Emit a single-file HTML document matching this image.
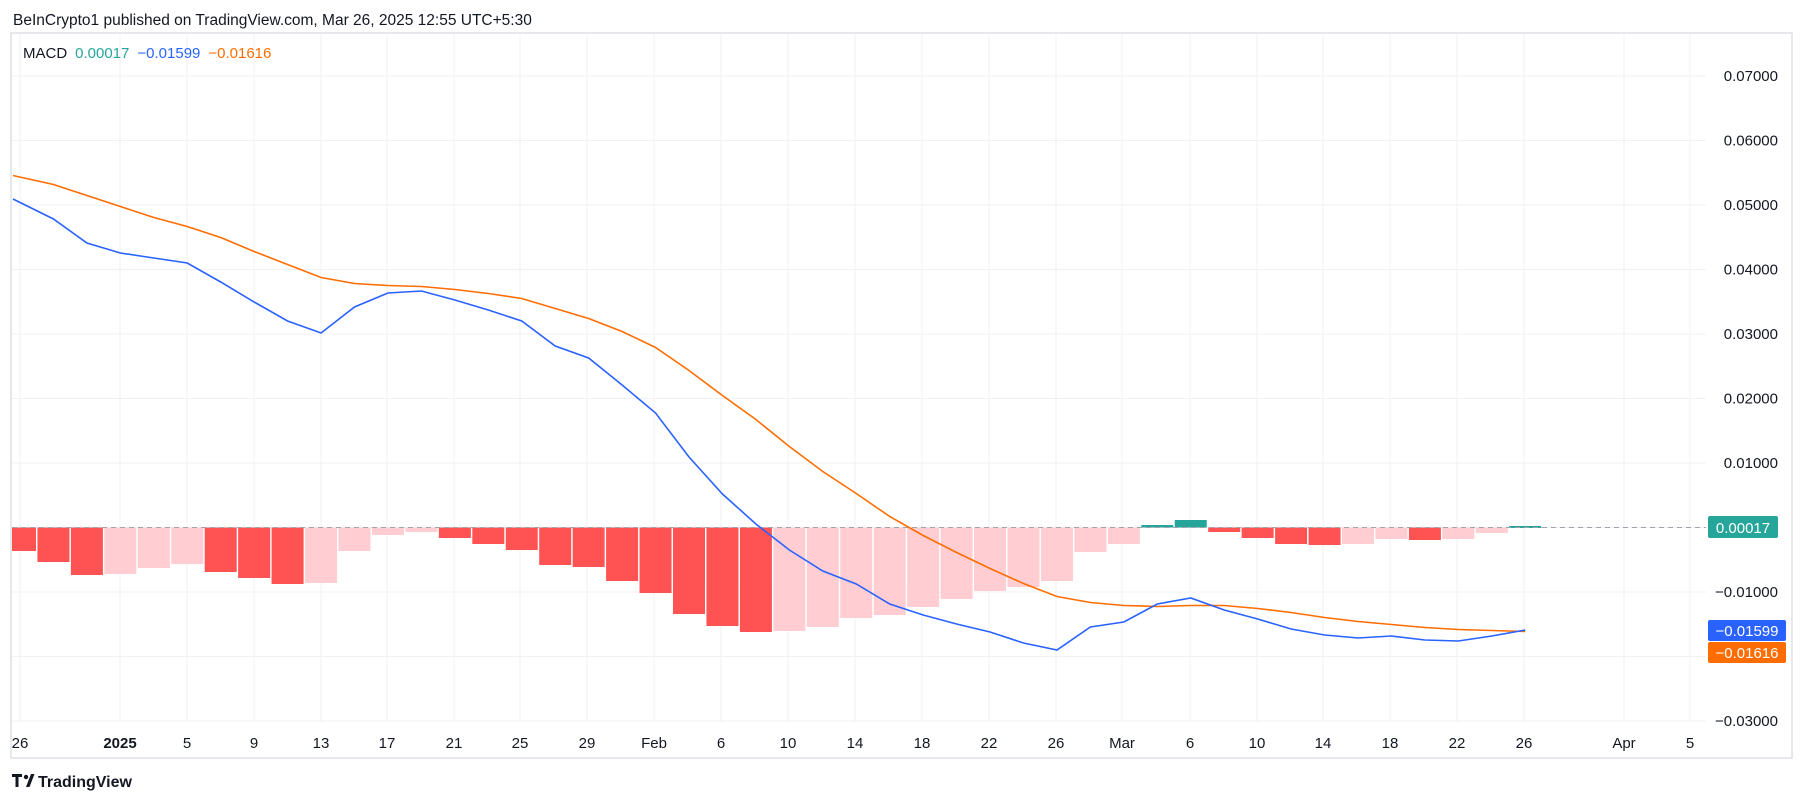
<!DOCTYPE html>
<html><head><meta charset="utf-8"><style>
html,body{margin:0;padding:0;background:#fff;}
body{width:1805px;height:803px;overflow:hidden;position:relative;font-family:"Liberation Sans",sans-serif;}
</style></head><body>
<svg id="s" width="1805" height="803" xmlns="http://www.w3.org/2000/svg" style="position:absolute;left:0;top:0">
<text x="13" y="25" font-size="15.5" fill="#131722" font-family="Liberation Sans, sans-serif">BeInCrypto1 published on TradingView.com, Mar 26, 2025 12:55 UTC+5:30</text>
<rect x="11" y="33" width="1781" height="725" fill="none" stroke="#e6e8ee" stroke-width="2"/>
<g id="grid"></g>
<g id="bars"></g>
<line x1="12" y1="527.5" x2="1706" y2="527.5" stroke="#a0a3ab" stroke-width="1" stroke-dasharray="5,4"/>
<polyline id="orange" fill="none" stroke="#FF6D00" stroke-width="1.6"/>
<polyline id="blue" fill="none" stroke="#2962FF" stroke-width="1.6"/>
<g id="ylab" font-size="15" fill="#131722" text-anchor="end" font-family="Liberation Sans, sans-serif"></g>
<g id="xlab" font-size="15" fill="#131722" text-anchor="middle" font-family="Liberation Sans, sans-serif"></g>
<text x="23" y="58" font-size="15" font-family="Liberation Sans, sans-serif"><tspan fill="#131722">MACD</tspan><tspan fill="#26A69A" dx="8">0.00017</tspan><tspan fill="#2962FF" dx="8">−0.01599</tspan><tspan fill="#FF6D00" dx="8">−0.01616</tspan></text>
<rect x="1708" y="516" width="70" height="22" rx="2" fill="#26A69A"/>
<text x="1743" y="533" font-size="15" fill="#fff" text-anchor="middle">0.00017</text>
<rect x="1708" y="620" width="78" height="21" rx="2" fill="#2962FF"/>
<text x="1747" y="636" font-size="15" fill="#fff" text-anchor="middle">−0.01599</text>
<rect x="1708" y="642" width="78" height="21" rx="2" fill="#FF6D00"/>
<text x="1747" y="658" font-size="15" fill="#fff" text-anchor="middle">−0.01616</text>
<g transform="translate(12,774)">
<path d="M0 0h10v3h-3.5v10h-3v-10h-3.5z" fill="#131722"/>
<circle cx="14" cy="3" r="2.2" fill="#131722"/>
<path d="M14 13l5-13h3.5l-5 13z" fill="#131722"/>
</g>
<text x="38" y="787" font-size="16" font-weight="bold" fill="#131722">TradingView</text>
</svg>
<script>
var NS="http://www.w3.org/2000/svg";
function el(p,t,a,txt){var e=document.createElementNS(NS,t);for(var k in a)e.setAttribute(k,a[k]);if(txt!=null)e.textContent=txt;document.getElementById(p).appendChild(e);return e;}
var zero=527.5, ppu=6450;
for(var v=-0.03;v<=0.0701;v+=0.01){var y=zero-v*ppu;if(y<34||y>722)continue;el("grid","line",{x1:12,x2:1706,y1:y,y2:y,stroke:"#f0f1f4","stroke-width":1});}
var gx=[20,120,187,254,321,387,454,520,587,654,721,788,855,922,989,1056,1122,1190,1257,1323,1390,1457,1524,1624,1690];
var gl=["26","2025","5","9","13","17","21","25","29","Feb","6","10","14","18","22","26","Mar","6","10","14","18","22","26","Apr","5"];
for(var i=0;i<gx.length;i++){el("grid","line",{x1:gx[i],x2:gx[i],y1:34,y2:722,stroke:"#f0f1f4","stroke-width":1});
var t=el("xlab","text",{x:gx[i],y:748},gl[i]);if(gl[i]=="2025")t.setAttribute("font-weight","bold");}
var yl=[[0.07,"0.07000"],[0.06,"0.06000"],[0.05,"0.05000"],[0.04,"0.04000"],[0.03,"0.03000"],[0.02,"0.02000"],[0.01,"0.01000"],[-0.01,"−0.01000"],[-0.03,"−0.03000"]];
yl.forEach(function(a){el("ylab","text",{x:1778,y:zero-a[0]*ppu+5},a[1]);});
var blue=[199,219,243,253,258,263,282,302,321,333,307,293,291,300,310,321,346,358,385,413,457,494,524,550,571,584,604,615,624,632,643,650,627,622,604,598,610,619,629,635,638,636,640,641,636,630];
var bot=[551,562,575,574,568,564,572,578,584,583,551,535,532,538,544,550,565,567,581,593,614,626,632,631,627,618,615,607,599,591,587,581,552,544,525,520,532,538,544,545,544,539,540,539,533,526];
var typ="DDDLLLDDDLLLLDDDDDDDDDDLLLLLLLLLLLGGDDDDLLDLLG";
var bp=[],op=[];
for(var k=0;k<46;k++){var cx=20+33.45*k;var x0=cx-16,x1=cx+16;if(x0<12)x0=12;
var b=bot[k];var c=typ[k]=="D"?"#FF5252":typ[k]=="L"?"#FFCDD2":"#26A69A";
var y0=Math.min(b,zero),h=Math.abs(b-zero);if(h<2)h=2;
el("bars","rect",{x:x0,y:y0,width:x1-x0,height:h,fill:c});
var bx=k==0?13:cx;
bp.push(bx+","+blue[k]);op.push(bx+","+(blue[k]-(b-zero)));}
document.getElementById("blue").setAttribute("points",bp.join(" "));
document.getElementById("orange").setAttribute("points",op.join(" "));
</script>
</body></html>
